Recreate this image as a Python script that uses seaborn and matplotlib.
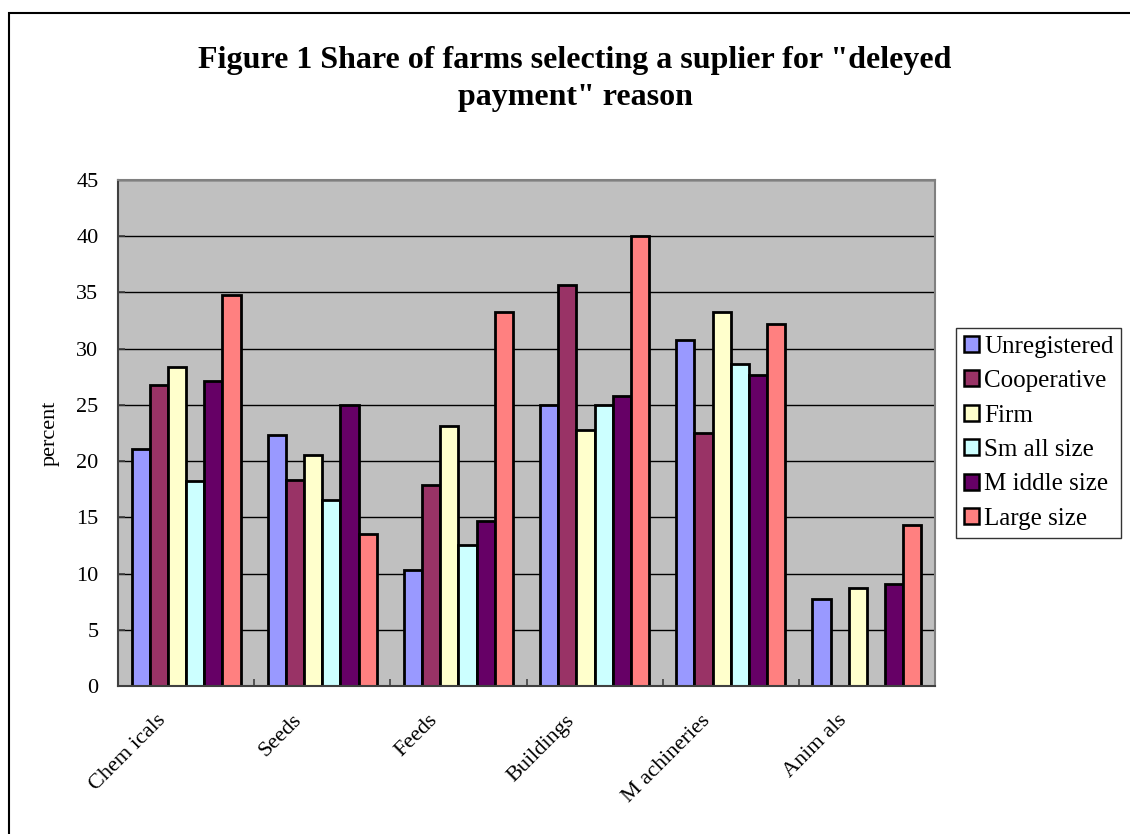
import matplotlib
matplotlib.use("Agg")
import matplotlib.pyplot as plt
import matplotlib.patches as mpatches
import matplotlib.transforms as mtransforms
import seaborn as sns
import pandas as pd

# Purchase categories and supplier/farm types
categories = ["Chemicals", "Seeds", "Feeds", "Buildings", "Machineries", "Animals"]
series = ["Unregistered", "Cooperative", "Firm", "Small size", "Middle size", "Large size"]

unregistered = [21.1, 22.3, 10.3, 25.0, 30.8, 7.7]
cooperative = [26.8, 18.3, 17.9, 35.7, 22.5, 0.0]
firm = [28.4, 20.5, 23.1, 22.8, 33.3, 8.7]
small_size = [18.2, 16.5, 12.5, 25.0, 28.6, 0.0]
middle_size = [27.1, 25.0, 14.7, 25.8, 27.7, 9.1]
large_size = [34.8, 13.5, 33.3, 40.0, 32.2, 14.3]

legend_labels = ["Unregistered", "Cooperative", "Firm", "Sm all size", "M iddle size", "Large size"]
tick_labels = ["Chem icals", "Seeds", "Feeds", "Buildings", "M achineries", "Anim als"]
y_ticks = [0, 5, 10, 15, 20, 25, 30, 35, 40, 45]

colors = ["#9999FF", "#993366", "#FFFFCC", "#CCFFFF", "#660066", "#FF8080"]

values = [unregistered, cooperative, firm, small_size, middle_size, large_size]
rows = []
for name, vals in zip(series, values):
    for cat, v in zip(categories, vals):
        rows.append({"category": cat, "type": name, "percent": v})
df = pd.DataFrame(rows)

sns.set_theme(style="white")
plt.rcParams["font.family"] = ["Liberation Serif", "DejaVu Serif"]
for key in ["text.color", "axes.labelcolor", "xtick.color", "ytick.color"]:
    plt.rcParams[key] = "black"

fig = plt.figure(figsize=(11.3, 8.34), dpi=100)
ax = fig.add_axes([118 / 1130, 1 - 686 / 834, (935 - 118) / 1130, (686 - 180) / 834])
ax.set_facecolor("#C0C0C0")

sns.barplot(data=df, x="category", y="percent", hue="type", order=categories,
            hue_order=series, palette=colors, width=0.8, edgecolor="black",
            linewidth=2.0, saturation=1, ax=ax, legend=False)

ax.set_xlim(-0.5, len(categories) - 0.5)
ax.set_ylim(0, 45)
ax.set_yticks(y_ticks)
ax.yaxis.grid(True, color="black", linewidth=1.0)
ax.set_axisbelow(True)

ax.tick_params(axis="y", direction="in", length=5, width=1.2, color="#404040",
               pad=14, labelsize=16, left=True)
ax.set_xticks(range(len(categories)))
ax.set_xticks([i + 0.5 for i in range(len(categories) - 1)], minor=True)
ax.tick_params(axis="x", which="major", length=0, pad=18, labelsize=16)
ax.tick_params(axis="x", which="minor", direction="in", length=5, width=1.2,
               color="#404040", bottom=True)
ax.set_xticklabels(tick_labels, rotation=45, ha="right", rotation_mode="anchor")
shift = mtransforms.ScaledTranslation(-30 / 100, 0, fig.dpi_scale_trans)
for lbl in ax.get_xticklabels():
    lbl.set_transform(lbl.get_transform() + shift)

ax.set_xlabel("")
ax.set_ylabel("percent", fontsize=16, labelpad=12)

for side in ["left", "bottom"]:
    ax.spines[side].set_color("#404040")
    ax.spines[side].set_linewidth(1.5)
for side in ["top", "right"]:
    ax.spines[side].set_color("#808080")
    ax.spines[side].set_linewidth(1.5)

fig.text(575 / 1130, 1 - 79 / 834,
         "Figure 1 Share of farms selecting a suplier for \"deleyed\npayment\" reason",
         ha="center", va="center", fontsize=23, fontweight="bold", linespacing=1.4)

handles = [mpatches.Patch(facecolor=c, edgecolor="black", linewidth=1.8) for c in colors]
leg = fig.legend(handles, legend_labels, loc="upper left",
                 bbox_to_anchor=(956 / 1130, 1 - 328 / 834), frameon=True,
                 fontsize=18, handlelength=0.62, handleheight=0.62,
                 handletextpad=0.2, labelspacing=0.5, borderpad=0.3,
                 fancybox=False, borderaxespad=0)
leg.get_frame().set_edgecolor("black")
leg.get_frame().set_linewidth(1.0)

# Outer chart border
border = mpatches.Rectangle((9 / 1130, -0.05), 1.1, 1 - 13 / 834 + 0.05,
                            transform=fig.transFigure, fill=False,
                            edgecolor="black", linewidth=1.5, clip_on=False)
fig.patches.append(border)

fig.savefig("out.png", dpi=100)
